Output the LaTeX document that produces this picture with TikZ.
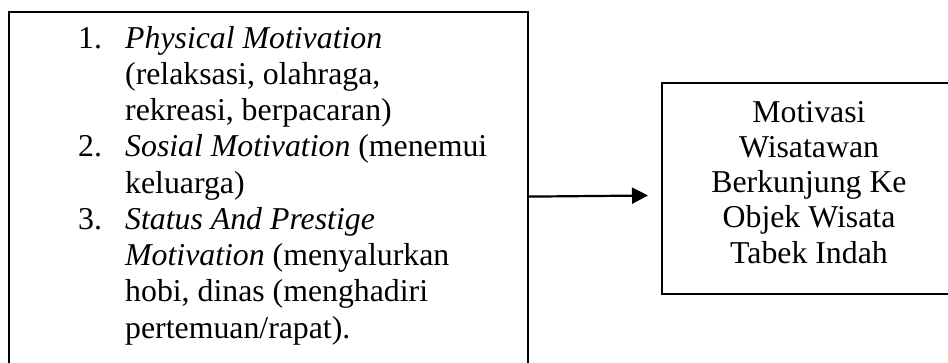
\documentclass[tikz,border=0pt]{standalone}
\usepackage{fontspec}
\setmainfont{Liberation Serif}
\usetikzlibrary{arrows.meta}
\tikzset{
  boxline/.style={draw, line width=2.2pt, inner sep=0pt, anchor=north west},
  txt/.style={inner sep=0pt, font=\fontsize{31.8}{36}\selectfont},
  ltxt/.style={txt, anchor=base west},
  ctxt/.style={txt, anchor=base},
  conn/.style={line width=2.2pt, -{Triangle[length=16pt,width=16pt]}}
}
\begin{document}
\begin{tikzpicture}[x=1pt,y=-1pt]
\useasboundingbox (0,0) rectangle (948,362);
\clip (0,0) rectangle (948,362);
\node[boxline, minimum width=519pt, minimum height=369pt] (leftbox) at (8,11) {};
\node[boxline, minimum width=296pt, minimum height=211pt] (rightbox) at (661,82) {};
% list numbers
\node[ltxt] (n1) at (78,48) {1.};
\node[ltxt] (n2) at (78,156.75) {2.};
\node[ltxt] (n3) at (78,229.25) {3.};
% list lines
\node[ltxt] (l1) at (125,48) {\textit{Physical Motivation}};
\node[ltxt] (l2) at (125,84.25) {(relaksasi, olahraga,};
\node[ltxt] (l3) at (125,120.5) {rekreasi, berpacaran)};
\node[ltxt] (l4) at (125,156.75) {\textit{Sosial Motivation} (menemui};
\node[ltxt] (l5) at (125,193) {keluarga)};
\node[ltxt] (l6) at (125,229.25) {\textit{Status And Prestige}};
\node[ltxt] (l7) at (125,265.5) {\textit{Motivation} (menyalurkan};
\node[ltxt] (l8) at (125,301.75) {hobi, dinas (menghadiri};
\node[ltxt] (l9) at (125,338) {pertemuan/rapat).};
% right box text
\node[ctxt] (r1) at (809,122) {Motivasi};
\node[ctxt] (r2) at (809,157.25) {Wisatawan};
\node[ctxt] (r3) at (809,192.5) {Berkunjung Ke};
\node[ctxt] (r4) at (809,227.75) {Objek Wisata};
\node[ctxt] (r5) at (809,263) {Tabek Indah};
% connector
\coordinate (tip) at (648,195.5);
\draw[conn] (leftbox.east) -- (tip);
\end{tikzpicture}
\end{document}
